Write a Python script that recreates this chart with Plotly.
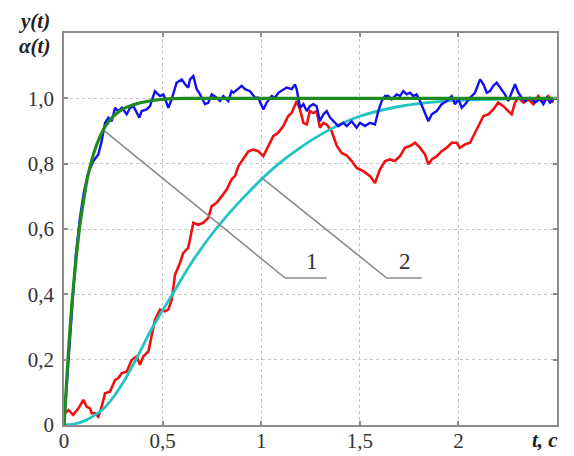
import plotly.graph_objects as go

# ---------------- data ----------------
green_t = [0, 0.02, 0.04, 0.06, 0.08, 0.1, 0.12, 0.15, 0.18, 0.21,
           0.25, 0.3, 0.35, 0.4, 0.47, 0.55, 0.65, 2.5]
green_v = [0, 0.2, 0.37, 0.5, 0.61, 0.69, 0.76, 0.83, 0.88, 0.915,
           0.945, 0.968, 0.98, 0.988, 0.995, 0.999, 1.0, 1.0]

cyan_t = [0, 0.05, 0.1, 0.15, 0.2, 0.25, 0.3, 0.36, 0.45, 0.55,
          0.65, 0.77, 0.9, 1.07, 1.2, 1.35, 1.5, 1.7, 1.9, 2.1,
          2.3, 2.5]
cyan_v = [0, 0.003, 0.012, 0.028, 0.05, 0.085, 0.13, 0.195, 0.3, 0.4,
          0.5, 0.6, 0.69, 0.79, 0.85, 0.905, 0.945, 0.975, 0.99, 0.996,
          0.999, 1.0]

blue_t = [0, 0.02, 0.04, 0.06, 0.08, 0.1, 0.123, 0.149, 0.174, 0.191,
          0.208, 0.225, 0.242, 0.259, 0.275, 0.293, 0.318, 0.335, 0.352, 0.382,
          0.394, 0.419, 0.436, 0.461, 0.487, 0.504, 0.529, 0.546, 0.571, 0.597,
          0.614, 0.630, 0.639, 0.656, 0.673, 0.690, 0.715, 0.732, 0.749, 0.774,
          0.791, 0.808, 0.833, 0.850, 0.859, 0.884, 0.901, 0.918, 0.943, 0.969,
          0.985, 1.011, 1.028, 1.053, 1.070, 1.087, 1.112, 1.129, 1.155, 1.171,
          1.180, 1.197, 1.214, 1.231, 1.247, 1.264, 1.281, 1.298, 1.315, 1.332,
          1.349, 1.366, 1.391, 1.416, 1.434, 1.459, 1.484, 1.501, 1.526, 1.552,
          1.577, 1.594, 1.611, 1.628, 1.645, 1.662, 1.687, 1.704, 1.721, 1.738,
          1.755, 1.771, 1.788, 1.805, 1.822, 1.848, 1.865, 1.890, 1.915, 1.941,
          1.966, 1.983, 2.0, 2.017, 2.034, 2.059, 2.084, 2.110, 2.127, 2.144,
          2.160, 2.177, 2.194, 2.211, 2.236, 2.253, 2.270, 2.287, 2.304, 2.321,
          2.338, 2.363, 2.388, 2.414, 2.431, 2.448, 2.465, 2.481]
blue_v = [0, 0.18, 0.36, 0.52, 0.63, 0.71, 0.772, 0.808, 0.828, 0.869,
          0.925, 0.941, 0.930, 0.971, 0.961, 0.971, 0.951, 0.971, 0.976, 0.941,
          0.961, 0.966, 0.976, 1.022, 1.007, 1.012, 0.971, 0.997, 1.048, 1.058,
          1.043, 1.033, 1.058, 1.068, 1.028, 1.012, 0.982, 0.987, 1.012, 1.002,
          0.992, 1.007, 0.992, 1.022, 1.017, 1.028, 1.038, 1.028, 1.022, 1.002,
          1.002, 0.966, 0.987, 1.007, 1.002, 1.017, 1.028, 1.033, 1.028, 1.043,
          1.028, 0.971, 0.982, 0.961, 0.976, 0.982, 0.976, 0.930, 0.951, 0.961,
          0.941, 0.930, 0.915, 0.925, 0.915, 0.930, 0.910, 0.925, 0.915, 0.925,
          0.920, 0.961, 0.992, 1.007, 1.007, 0.997, 1.012, 1.007, 1.022, 1.012,
          1.017, 1.007, 1.012, 0.992, 0.966, 0.930, 0.951, 0.961, 0.982, 0.992,
          1.007, 0.982, 0.997, 0.971, 0.982, 1.002, 1.017, 1.058, 1.043, 1.017,
          1.022, 1.038, 1.048, 1.033, 1.012, 0.992, 1.017, 1.043, 1.017, 1.002,
          0.992, 1.002, 0.987, 0.997, 0.982, 1.002, 0.987, 0.997]

red_t = [0, 0.005, 0.022, 0.047, 0.073, 0.098, 0.115, 0.132, 0.140, 0.157,
         0.174, 0.191, 0.208, 0.233, 0.259, 0.275, 0.293, 0.318, 0.343, 0.369,
         0.385, 0.402, 0.428, 0.445, 0.461, 0.487, 0.512, 0.529, 0.546, 0.563,
         0.588, 0.605, 0.630, 0.656, 0.681, 0.706, 0.732, 0.749, 0.774, 0.800,
         0.825, 0.850, 0.867, 0.884, 0.909, 0.935, 0.960, 0.985, 1.011, 1.036,
         1.061, 1.087, 1.112, 1.137, 1.155, 1.180, 1.197, 1.214, 1.231, 1.247,
         1.264, 1.281, 1.298, 1.315, 1.332, 1.357, 1.383, 1.408, 1.434, 1.459,
         1.484, 1.518, 1.552, 1.577, 1.602, 1.628, 1.653, 1.678, 1.704, 1.729,
         1.755, 1.780, 1.805, 1.831, 1.848, 1.865, 1.890, 1.915, 1.941, 1.966,
         1.991, 2.008, 2.034, 2.059, 2.084, 2.110, 2.127, 2.152, 2.177, 2.202,
         2.228, 2.253, 2.270, 2.287, 2.304, 2.330, 2.355, 2.380, 2.405, 2.431,
         2.456, 2.481]
red_v = [0.01, 0.036, 0.046, 0.031, 0.051, 0.077, 0.056, 0.051, 0.036, 0.036,
         0.026, 0.056, 0.097, 0.102, 0.138, 0.143, 0.159, 0.163, 0.199, 0.210,
         0.184, 0.210, 0.225, 0.281, 0.322, 0.353, 0.348, 0.353, 0.383, 0.460,
         0.496, 0.527, 0.542, 0.619, 0.613, 0.619, 0.634, 0.670, 0.680, 0.700,
         0.721, 0.752, 0.762, 0.792, 0.813, 0.838, 0.843, 0.838, 0.823, 0.854,
         0.884, 0.895, 0.915, 0.946, 0.956, 0.992, 0.966, 0.925, 0.920, 0.961,
         0.955, 0.961, 0.910, 0.925, 0.920, 0.900, 0.855, 0.833, 0.825, 0.808,
         0.787, 0.777, 0.762, 0.741, 0.782, 0.808, 0.813, 0.808, 0.823, 0.849,
         0.854, 0.864, 0.849, 0.828, 0.798, 0.813, 0.823, 0.838, 0.849, 0.864,
         0.864, 0.849, 0.859, 0.864, 0.895, 0.925, 0.946, 0.951, 0.966, 0.987,
         0.976, 0.961, 0.951, 0.987, 1.002, 0.987, 0.997, 0.982, 1.007, 0.987,
         1.007, 0.987]

x_ticks = [0, 0.5, 1, 1.5, 2]
x_labels = ["0", "0,5", "1", "1,5", "2"]
y_ticks = [0, 0.2, 0.4, 0.6, 0.8, 1.0]
y_labels = ["0", "0,2", "0,4", "0,6", "0,8", "1,0"]

# ---------------- figure ----------------
FONT = "Liberation Serif"
W, H = 574, 456
ML, MR, MT, MB = 64, 17, 33, 31

fig = go.Figure()

fig.add_trace(go.Scatter(x=red_t, y=red_v, mode="lines",
                         line=dict(color="#f01010", width=2.6)))
fig.add_trace(go.Scatter(x=cyan_t, y=cyan_v, mode="lines",
                         line=dict(color="#22c3c3", width=2.8, shape="spline")))
fig.add_trace(go.Scatter(x=blue_t, y=blue_v, mode="lines",
                         line=dict(color="#1010f0", width=2.4)))
fig.add_trace(go.Scatter(x=green_t, y=green_v, mode="lines",
                         line=dict(color="#1f8a1f", width=3.2, shape="spline")))

# leader lines for labels 1 and 2
lc = dict(color="#8a8a8a", width=1.6)
fig.add_shape(type="line", xref="x", yref="y", x0=0.208, y0=0.899, x1=1.121, y1=0.450, line=lc)
fig.add_shape(type="line", xref="x", yref="y", x0=1.121, y0=0.450, x1=1.332, y1=0.450, line=lc)
fig.add_shape(type="line", xref="x", yref="y", x0=0.999, y0=0.759, x1=1.636, y1=0.450, line=lc)
fig.add_shape(type="line", xref="x", yref="y", x0=1.636, y0=0.450, x1=1.814, y1=0.450, line=lc)

fig.add_annotation(x=1.256, y=0.50, xref="x", yref="y", text="1", showarrow=False,
                   font=dict(family=FONT, size=23, color="#333"))
fig.add_annotation(x=1.729, y=0.50, xref="x", yref="y", text="2", showarrow=False,
                   font=dict(family=FONT, size=23, color="#333"))


def px(xp):
    return (xp - ML) / (W - ML - MR)


def py(yp):
    return (H - yp - MB) / (H - MT - MB)


# axis titles (positions given in window pixels)
fig.add_annotation(x=px(52), y=py(21), xref="paper", yref="paper", text="<b><i>y(t)</i></b>",
                   showarrow=False, xanchor="right", yanchor="middle",
                   font=dict(family=FONT, size=21, color="#222"))
fig.add_annotation(x=px(52), y=py(46), xref="paper", yref="paper", text="<b><i>α(t)</i></b>",
                   showarrow=False, xanchor="right", yanchor="middle",
                   font=dict(family=FONT, size=21, color="#222"))
fig.add_annotation(x=px(560), y=py(440), xref="paper", yref="paper", text="<b><i>t, c</i></b>",
                   showarrow=False, xanchor="right", yanchor="middle",
                   font=dict(family=FONT, size=21, color="#222"))

fig.update_layout(
    width=W, height=H,
    margin=dict(l=ML, r=MR, t=MT, b=MB, autoexpand=False),
    paper_bgcolor="white", plot_bgcolor="white",
    showlegend=False,
    font=dict(family=FONT, size=22, color="#333"),
)

axis_common = dict(
    showline=True, linecolor="#8c8c8c", linewidth=1.5, mirror="ticks",
    showgrid=True, gridcolor="#c4c4c4", griddash="dot", gridwidth=1,
    ticks="inside", ticklen=4, tickcolor="#8c8c8c", tickwidth=1.5,
    zeroline=False, tickfont=dict(family=FONT, size=21, color="#333"),
)
fig.update_xaxes(range=[0, 2.5], tickmode="array", tickvals=x_ticks, ticktext=x_labels,
                 ticklabelstandoff=-4, **axis_common)
fig.update_yaxes(range=[0, 1.2], tickmode="array", tickvals=y_ticks, ticktext=y_labels,
                 ticklabelstandoff=4, **axis_common)

fig.write_html("out.html", config={"displayModeBar": False},
               post_script="document.body.style.margin='0';")
